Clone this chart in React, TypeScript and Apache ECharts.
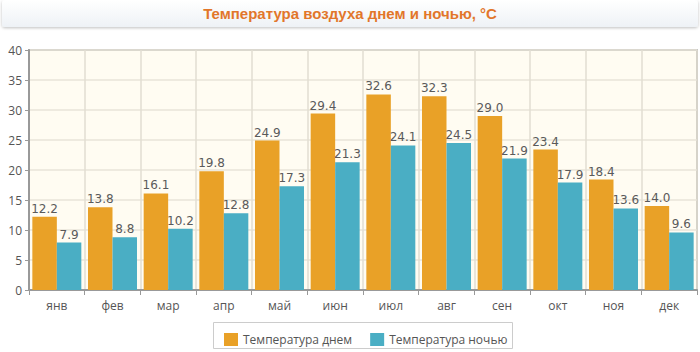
import React, { useEffect, useRef } from "react";
import * as echarts from "echarts";

const months = ["янв", "фев", "мар", "апр", "май", "июн", "июл", "авг", "сен", "окт", "ноя", "дек"];
const dayTemps = [12.2, 13.8, 16.1, 19.8, 24.9, 29.4, 32.6, 32.3, 29.0, 23.4, 18.4, 14.0];
const nightTemps = [7.9, 8.8, 10.2, 12.8, 17.3, 21.3, 24.1, 24.5, 21.9, 17.9, 13.6, 9.6];
const seriesNames = ["Температура днем", "Температура ночью"];
const titleText = "Температура воздуха днем и ночью, °C";

export default function App() {
  const ref = useRef<HTMLDivElement>(null);
  useEffect(() => {
    if (!ref.current) return;
    const chart = echarts.init(ref.current, null, { renderer: "svg" });
    const labelCfg = {
      show: true,
      position: "top",
      distance: 2,
      color: "#5a5a5a",
      fontSize: 12,
      fontFamily: "DejaVu Sans",
      formatter: (p: any) => Number(p.value).toFixed(1),
    };
    chart.setOption({
      animation: false,
      backgroundColor: "#ffffff",
      graphic: [
        {
          type: "rect",
          shape: { x: 2, y: 0, width: 696, height: 27, r: 3 },
          style: {
            fill: new echarts.graphic.LinearGradient(0, 0, 0, 1, [
              { offset: 0, color: "#ffffff" },
              { offset: 1, color: "#eef2f6" },
            ]),
            shadowBlur: 3,
            shadowColor: "rgba(0,0,0,0.25)",
            shadowOffsetY: 1,
          },
          z: 0,
        },
        {
          type: "text",
          x: 350,
          y: 13,
          style: {
            text: titleText,
            fill: "#e2762a",
            font: "bold 15px 'Liberation Sans', Arial, sans-serif",
            textAlign: "center",
            textVerticalAlign: "middle",
          },
          z: 1,
        },
        {
          type: "rect",
          shape: { x: 213.5, y: 322.5, width: 299, height: 26 },
          style: { fill: "#fff", stroke: "#cccccc", lineWidth: 1 },
          z: 0,
        },
      ],
      legend: {
        left: 219,
        top: 328,
        itemWidth: 14,
        itemHeight: 13,
        itemGap: 18,
        icon: "rect",
        textStyle: { color: "#555", fontSize: 12, fontFamily: "'Open Sans', sans-serif" },
        data: seriesNames,
        z: 5,
      },
      grid: {
        left: 29,
        right: 3,
        top: 50,
        bottom: 62,
        show: true,
        backgroundColor: "#fffcf2",
        borderColor: "#9a9a9a",
        borderWidth: 1.5,
      },
      xAxis: {
        type: "category",
        data: months,
        axisLine: { show: true, lineStyle: { color: "#999", width: 2 } },
        axisTick: { show: true, length: 5, lineStyle: { color: "#999" } },
        axisLabel: { color: "#555", fontSize: 12, margin: 9, fontFamily: "'Open Sans', sans-serif" },
        splitLine: { show: true, lineStyle: { color: "#e2ded2", width: 1.5 } },
      },
      yAxis: {
        type: "value",
        min: 0,
        max: 40,
        interval: 5,
        axisLine: { show: true, lineStyle: { color: "#999", width: 2 } },
        axisTick: { show: true, length: 4, lineStyle: { color: "#999" } },
        axisLabel: { color: "#555", fontSize: 12, margin: 7, fontFamily: "'Open Sans', sans-serif" },
        splitLine: { show: true, lineStyle: { color: "#e8e4d8", width: 1.5 } },
      },
      series: [
        {
          name: seriesNames[0],
          type: "bar",
          data: dayTemps,
          barGap: "0%",
          barCategoryGap: "12%",
          itemStyle: { color: "#e9a127" },
          label: labelCfg,
        },
        {
          name: seriesNames[1],
          type: "bar",
          data: nightTemps,
          itemStyle: { color: "#4aaec4" },
          label: labelCfg,
        },
      ],
    });
    return () => chart.dispose();
  }, []);
  return <div ref={ref} style={{ width: 700, height: 352, position: "absolute", left: 0, top: 0 }} />;
}
